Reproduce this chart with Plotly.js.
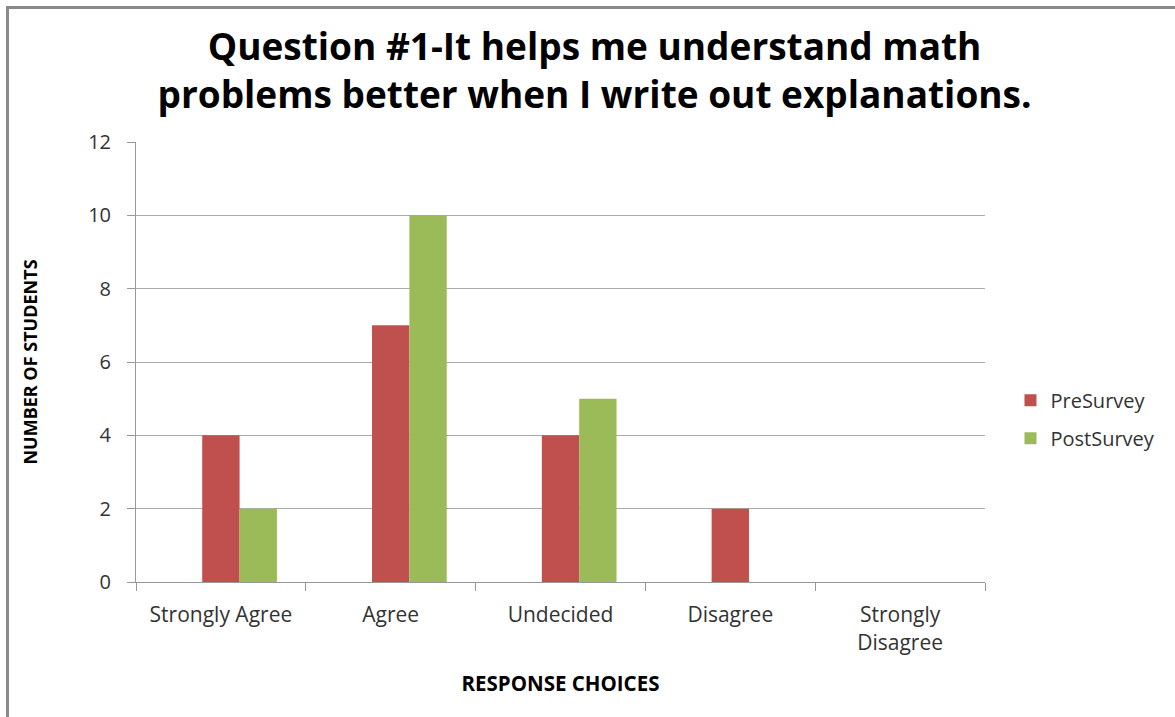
<!DOCTYPE html>
<html>
<head>
<meta charset="utf-8">
<script src="https://cdn.plot.ly/plotly-3.0.1.min.js"></script>
<style>
html,body{margin:0;padding:0;background:#fff;overflow:hidden;}
#frame{position:absolute;left:6px;top:6px;width:1200px;height:760px;border-left:3px solid #8a8a8a;border-top:3px solid #8a8a8a;box-sizing:border-box;pointer-events:none;z-index:5;}
#chart{position:absolute;left:0;top:0;width:1175px;height:717px;}
</style>
</head>
<body>
<div id="chart"></div>
<div id="frame"></div>
<script>
const categories = ["Strongly Agree", "Agree", "Undecided", "Disagree", "Strongly<br>Disagree"];
const preSurvey = [4, 7, 4, 2, 0];
const postSurvey = [2, 10, 5, 0, 0];
const yTicks = [0, 2, 4, 6, 8, 10, 12];

const font = "Open Sans, Liberation Sans, sans-serif";
const data = [
  {type: "bar", name: "PreSurvey", x: categories, y: preSurvey, marker: {color: "#C0504D"},
   width: 0.22, offset: -0.11, legendgroup: "pre"},
  {type: "bar", name: "PostSurvey", x: categories, y: postSurvey, marker: {color: "#9BBB59"},
   width: 0.22, offset: 0.11, legendgroup: "post"}
];
const layout = {
  width: 1175, height: 717,
  margin: {l: 136, r: 190, t: 142, b: 135},
  paper_bgcolor: "#fff", plot_bgcolor: "#fff",
  font: {family: font, color: "#222"},
  barmode: "overlay",
  title: {text: "<b>Question #1-It helps me understand math<br>problems better when I write out explanations.</b>",
    font: {family: font, size: 37, color: "#000"}, xref: "container", x: 0.506, xanchor: "center",
    yref: "container", y: 0.916, yanchor: "middle"},
  xaxis: {type: "category", tickson: "boundaries", ticks: "outside", ticklen: 8, tickcolor: "#999",
    showline: true, linecolor: "#999", showgrid: false, ticklabelstandoff: 14,
    tickfont: {family: font, size: 21, color: "#333"},
    title: {text: "<b>RESPONSE CHOICES</b>", font: {family: font, size: 20.5, color: "#000"}, standoff: 22}},
  yaxis: {range: [0, 12], tickvals: yTicks, ticks: "outside", ticklen: 8, tickcolor: "#999",
    showline: true, linecolor: "#999", gridcolor: "#aaa", gridwidth: 1, zeroline: false, ticklabelstandoff: 12,
    tickfont: {family: font, size: 20, color: "#333"},
    title: {text: "<b>NUMBER OF STUDENTS</b>", font: {family: font, size: 18, color: "#000"}, standoff: 45}},
  legend: {x: 1.03, xanchor: "left", y: 0.37, yanchor: "middle", font: {family: font, size: 20, color: "#333"},
    traceorder: "grouped", tracegroupgap: 9, itemwidth: 30},
  showlegend: true
};
Plotly.newPlot("chart", data, layout, {displayModeBar: false, staticPlot: true});
</script>
</body>
</html>
